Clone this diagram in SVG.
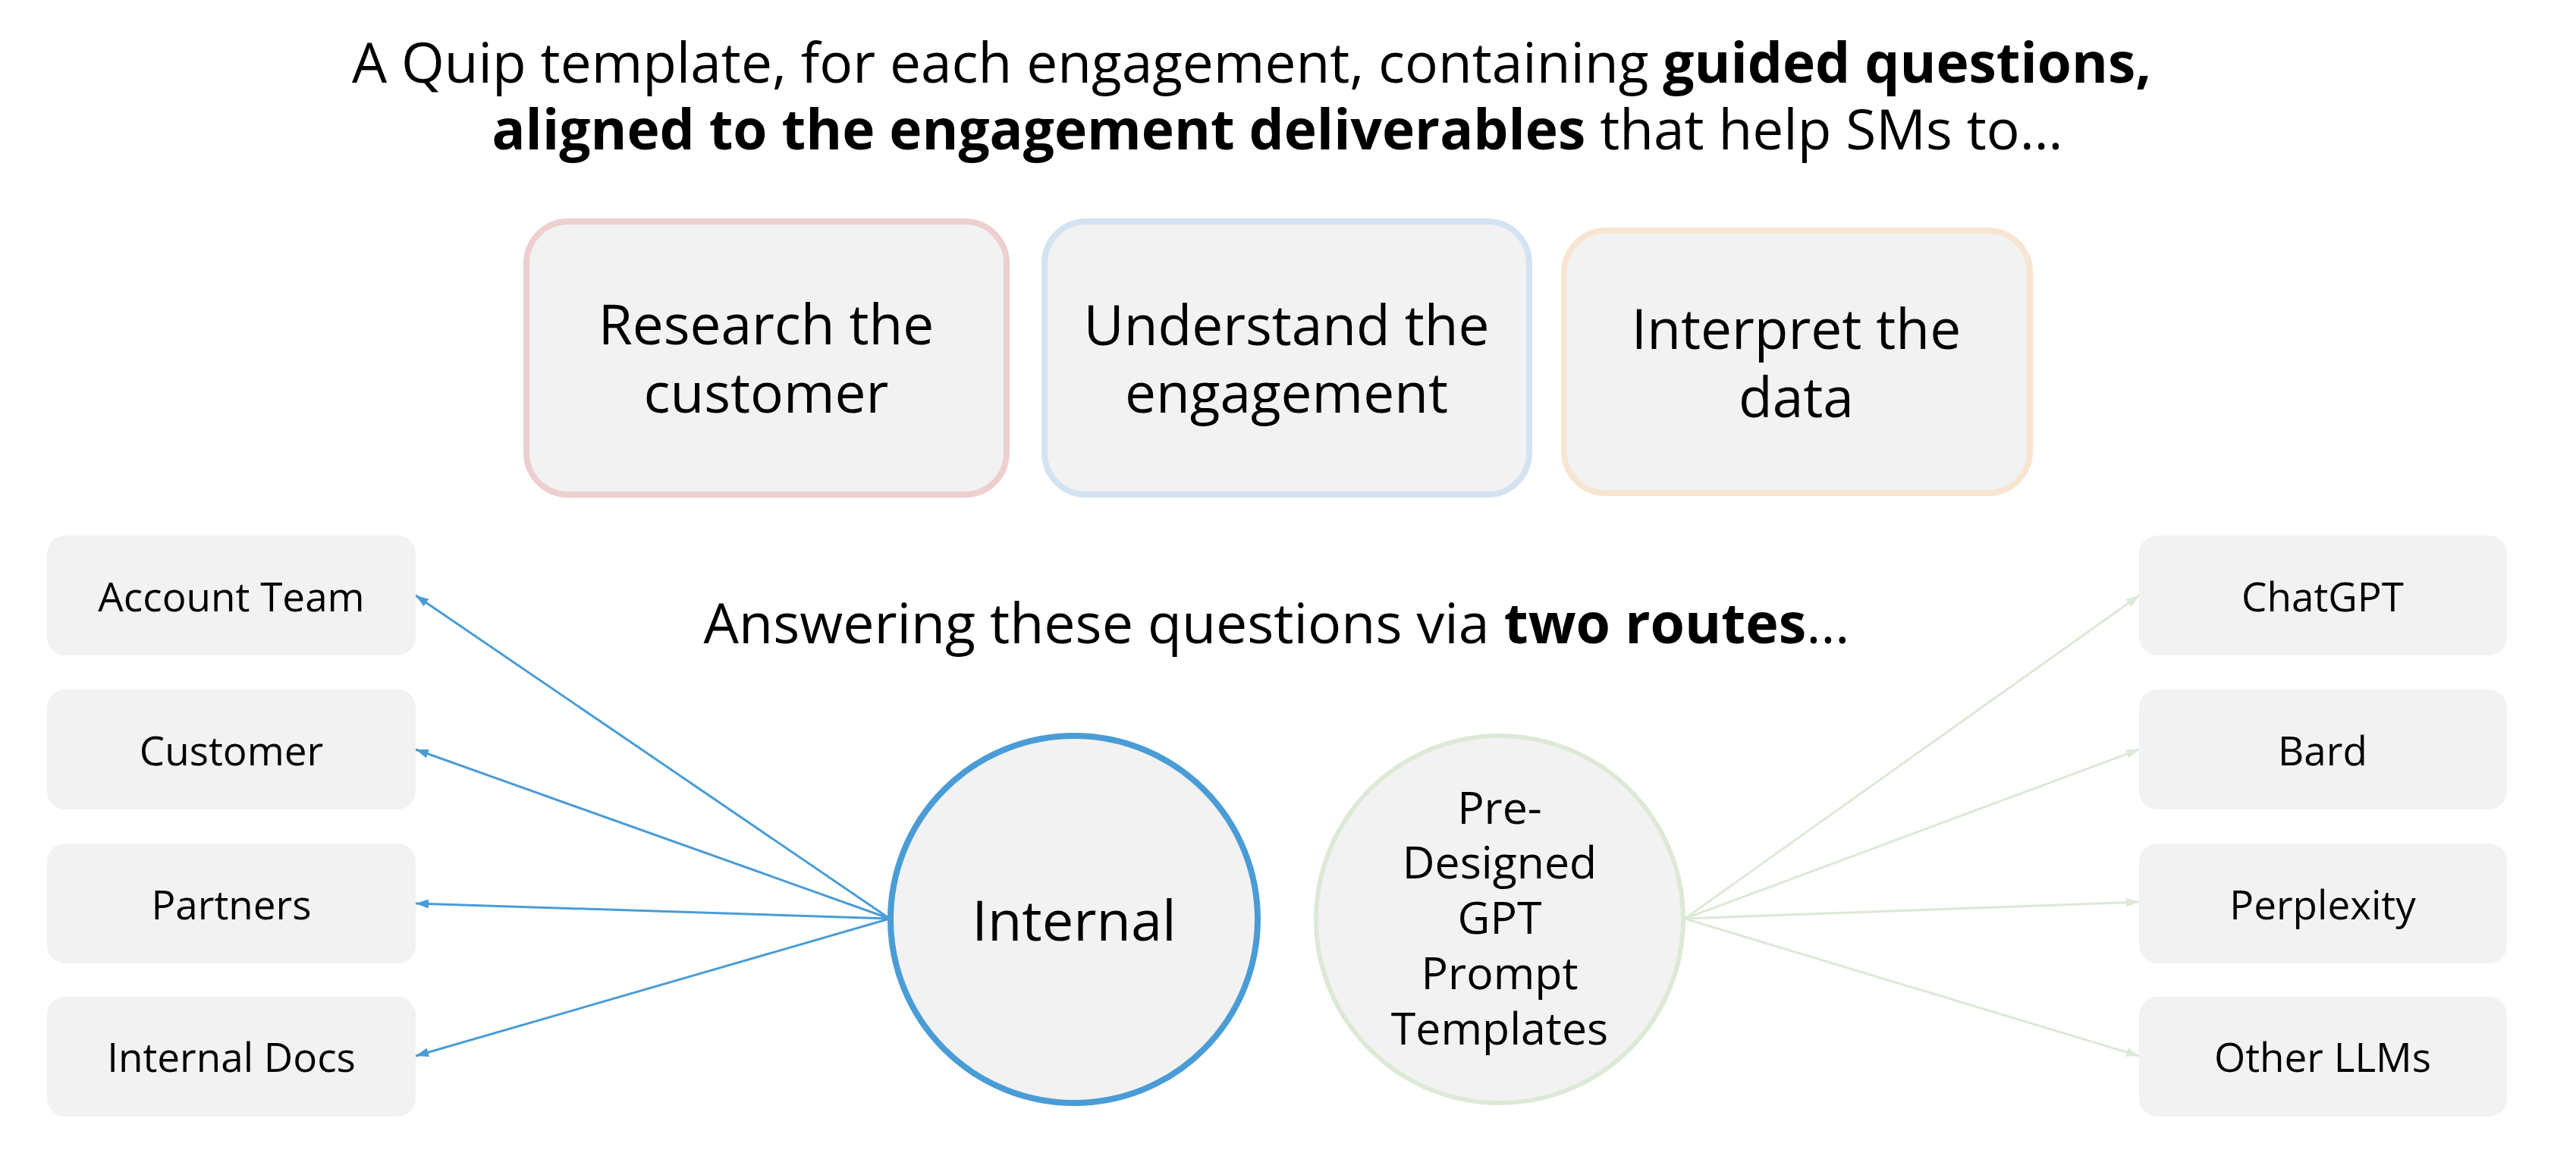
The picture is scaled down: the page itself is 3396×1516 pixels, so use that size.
<svg xmlns="http://www.w3.org/2000/svg" width="3396" height="1516" viewBox="0 0 3396 1516">
<defs>
<style>
text{font-family:"Open Sans","Noto Sans","Liberation Sans",sans-serif;fill:#000;text-anchor:middle}
.title{font-size:73px}
.b{font-weight:700}
.step{font-size:73px}
.small{font-size:53px}
.circ{font-size:59px}
.src{fill:#f2f2f2}
.blue-line{stroke:#4a9cd6;stroke-width:3;fill:none}
.green-line{stroke:#dce9d5;stroke-width:3;fill:none}
</style>
<marker id="ah-blue" markerUnits="userSpaceOnUse" viewBox="0 0 17 12" refX="17" refY="6" markerWidth="17" markerHeight="12" orient="auto">
<path d="M0,0 L17,6 L0,12 z" fill="#4a9cd6"/>
</marker>
<marker id="ah-green" markerUnits="userSpaceOnUse" viewBox="0 0 17 12" refX="17" refY="6" markerWidth="17" markerHeight="12" orient="auto">
<path d="M0,0 L17,6 L0,12 z" fill="#dce9d5"/>
</marker>
</defs>
<rect width="3396" height="1516" fill="#fff"/>

<g id="title">
<text class="title" x="1650" y="109">A Quip template, for each engagement, containing <tspan class="b">guided questions,</tspan></text>
<text class="title" x="1684" y="197"><tspan class="b">aligned to the engagement deliverables</tspan> that help SMs to…</text>
</g>

<g id="research">
<rect x="694" y="292" width="633" height="360" rx="55" fill="#f2f2f2" stroke="#edcfcf" stroke-width="8"/>
<text class="step" x="1010" y="454">Research the</text>
<text class="step" x="1010" y="544">customer</text>
</g>
<g id="understand">
<rect x="1377" y="292" width="639" height="360" rx="55" fill="#f2f2f2" stroke="#d4e3f2" stroke-width="8"/>
<text class="step" x="1696" y="455">Understand the</text>
<text class="step" x="1696" y="544">engagement</text>
</g>
<g id="interpret">
<rect x="2062" y="304" width="614" height="346" rx="55" fill="#f2f2f2" stroke="#f8e5d1" stroke-width="8"/>
<text class="step" x="2368" y="460">Interpret the</text>
<text class="step" x="2368" y="550">data</text>
</g>

<g id="routes-label">
<text style="font-size:73.5px" x="1683" y="848">Answering these questions via <tspan class="b">two routes</tspan>…</text>
</g>

<g id="connectors">
<line class="blue-line" x1="1173" y1="1211" x2="548" y2="785" marker-end="url(#ah-blue)"/>
<line class="blue-line" x1="1173" y1="1211" x2="548" y2="988" marker-end="url(#ah-blue)"/>
<line class="blue-line" x1="1173" y1="1211" x2="548" y2="1191" marker-end="url(#ah-blue)"/>
<line class="blue-line" x1="1173" y1="1211" x2="548" y2="1392" marker-end="url(#ah-blue)"/>
<line class="green-line" x1="2221" y1="1211" x2="2820" y2="785" marker-end="url(#ah-green)"/>
<line class="green-line" x1="2221" y1="1211" x2="2820" y2="988" marker-end="url(#ah-green)"/>
<line class="green-line" x1="2221" y1="1211" x2="2820" y2="1189" marker-end="url(#ah-green)"/>
<line class="green-line" x1="2221" y1="1211" x2="2820" y2="1392" marker-end="url(#ah-green)"/>
</g>

<g id="internal">
<circle cx="1416" cy="1212" r="242" fill="#f2f2f2" stroke="#4a9cd6" stroke-width="8"/>
<text style="font-size:74px" x="1416" y="1240">Internal</text>
</g>
<g id="prompt-templates">
<circle cx="1977" cy="1212" r="242" fill="#f2f2f2" stroke="#dce9d5" stroke-width="6"/>
<text class="circ" x="1977" y="1086">Pre-</text>
<text class="circ" x="1977" y="1158">Designed</text>
<text class="circ" x="1977" y="1231">GPT</text>
<text class="circ" x="1977" y="1304">Prompt</text>
<text class="circ" x="1977" y="1377">Templates</text>
</g>

<g id="account-team">
<rect class="src" x="62" y="706" width="486" height="158" rx="24"/>
<text class="small" x="305" y="806">Account Team</text>
</g>
<g id="customer">
<rect class="src" x="62" y="909" width="486" height="158" rx="24"/>
<text class="small" x="305" y="1009">Customer</text>
</g>
<g id="partners">
<rect class="src" x="62" y="1112" width="486" height="158" rx="24"/>
<text class="small" x="305" y="1212">Partners</text>
</g>
<g id="internal-docs">
<rect class="src" x="62" y="1314" width="486" height="158" rx="24"/>
<text class="small" x="305" y="1413">Internal Docs</text>
</g>

<g id="chatgpt">
<rect class="src" x="2820" y="706" width="485" height="158" rx="24"/>
<text class="small" x="3062" y="806">ChatGPT</text>
</g>
<g id="bard">
<rect class="src" x="2820" y="909" width="485" height="158" rx="24"/>
<text class="small" x="3062" y="1009">Bard</text>
</g>
<g id="perplexity">
<rect class="src" x="2820" y="1112" width="485" height="158" rx="24"/>
<text class="small" x="3062" y="1212">Perplexity</text>
</g>
<g id="other-llms">
<rect class="src" x="2820" y="1314" width="485" height="158" rx="24"/>
<text class="small" x="3062" y="1413">Other LLMs</text>
</g>
</svg>
